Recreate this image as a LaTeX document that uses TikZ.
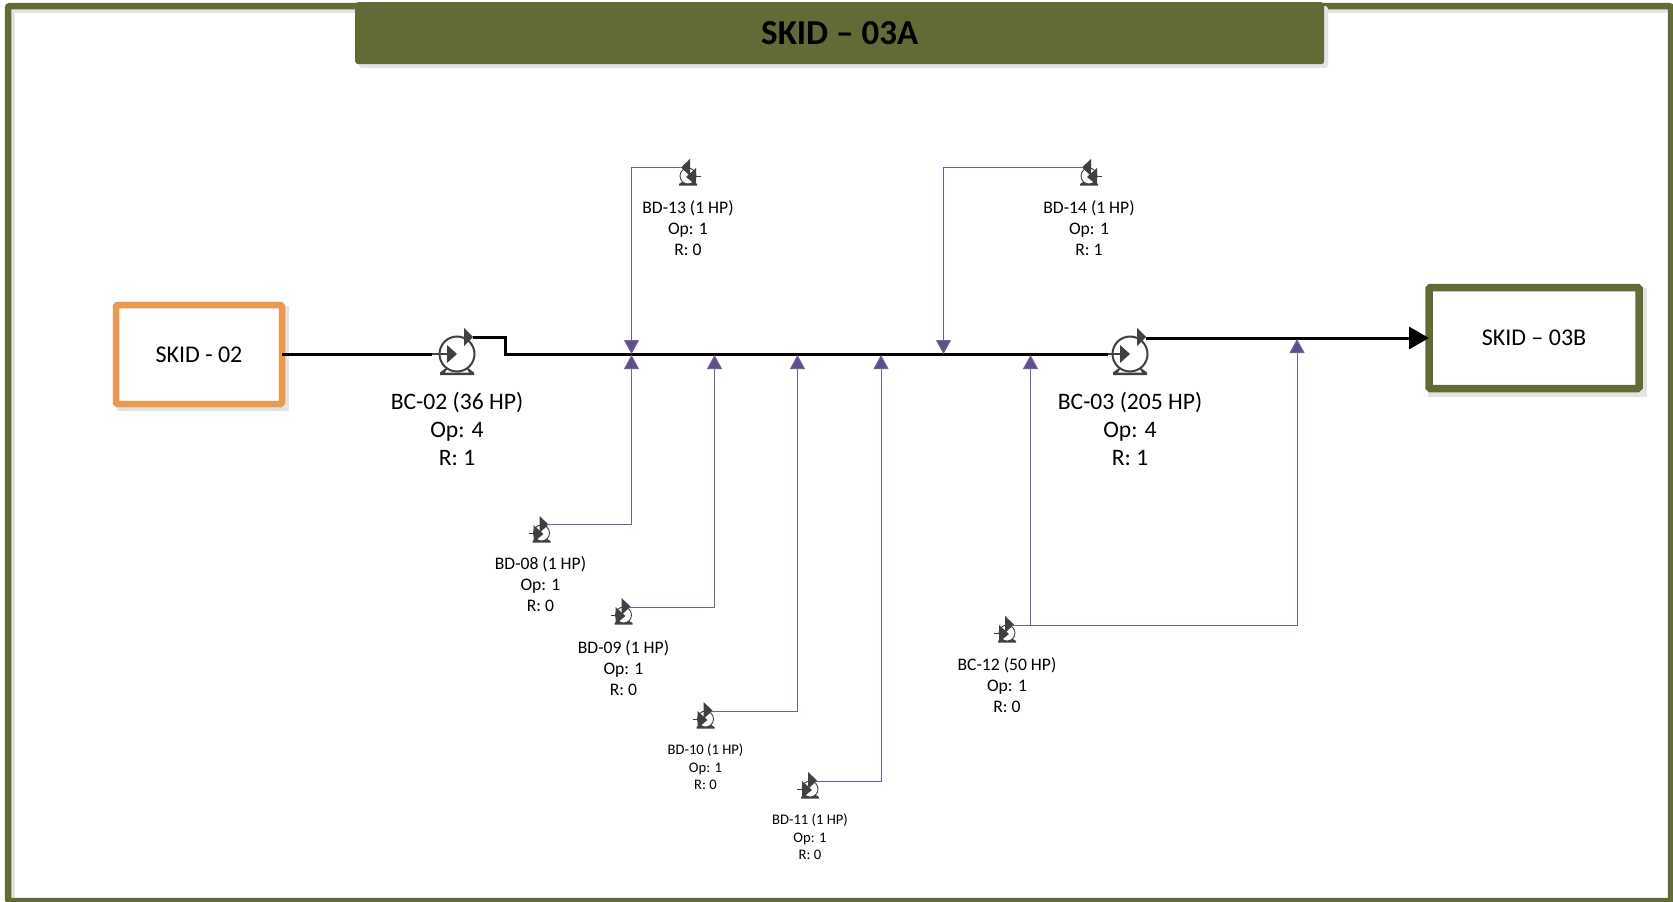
\documentclass[tikz,border=0pt]{standalone}
\usepackage{fontspec}
\setmainfont{Carlito}
\usetikzlibrary{arrows.meta}
\definecolor{olive}{RGB}{98,107,53}
\definecolor{orangeb}{RGB}{235,152,80}
\definecolor{violetl}{RGB}{112,96,155}
\definecolor{violetd}{RGB}{96,78,140}
\definecolor{shadowc}{RGB}{228,228,228}
\definecolor{pumpc}{RGB}{64,64,64}
\tikzset{
  feed/.style={draw=violetl,line width=1pt},
  feedarrow/.style={feed,-{Triangle[length=14pt,width=15pt,fill=violetd]}},
  mainline/.style={draw=black,line width=3pt,line join=miter},
  frameshade/.style={draw=shadowc,line width=6.5pt},
  bigtext/.style={font=\fontsize{23.6}{27.7}\selectfont,align=center,text=black,inner sep=0pt},
  midtext/.style={font=\fontsize{17.6}{21}\selectfont,align=center,text=black,inner sep=0pt},
  smalltext/.style={font=\fontsize{14.6}{17.5}\selectfont,align=center,text=black,inner sep=0pt},
  pics/bigpump/.style={code={
    \fill[pumpc] (-17,21) -- (17,21) -- (17,18.5) -- (11,14) -- (-11,14) -- (-17,18.5) -- cycle;
    \fill[white] (-12,18.5) -- (12,18.5) -- (9,14) -- (-9,14) -- cycle;
    \draw[pumpc,line width=2pt,fill=white] (0,0) circle (17.5);
    \draw[pumpc,line width=2pt] (-25,0) -- (-9,0);
    \fill[pumpc] (-10,-9) -- (0,0) -- (-10,9) -- cycle;
    \fill[pumpc] (7,-26) -- (16,-17) -- (7,-8) -- cycle;
  }},
  pics/smallpump/.style={code={
    \fill[pumpc] (-9,9.5) -- (9,9.5) -- (9,8) -- (5,5.5) -- (-5,5.5) -- (-9,8) -- cycle;
    \draw[pumpc,line width=.9pt,fill=white] (0,0) circle (8);
    \draw[pumpc,line width=.9pt] (-13,0) -- (-7,0);
    \fill[pumpc] (-8,-8) -- (2,1) -- (-8,9) -- cycle;
    \fill[pumpc] (-2,-17) -- (7,-8.5) -- (-2,0) -- cycle;
  }},
}
\begin{document}
\begin{tikzpicture}[x=1pt,y=-1pt]
\useasboundingbox (0,0) rectangle (1673,902);
\fill[white] (0,0) rectangle (1673,902);
% outer frame
\draw[frameshade] (12,10) rectangle (1675,905);
\draw[olive,line width=6.5pt,rounded corners=2pt] (8,6) rectangle (1671,901);
% title
\fill[shadowc,rounded corners=3pt] (359,6) rectangle (1328,68);
\node[fill=olive,rounded corners=3pt,minimum width=969pt,minimum height=62pt,inner sep=0pt,anchor=north west,font=\fontsize{35}{40}\selectfont\bfseries,text=black] (title) at (355,2) {SKID – 03A};
% boxes
\draw[shadowc,line width=6.5pt] (120,309) rectangle (286,408);
\node[draw=orangeb,fill=white,line width=6.5pt,rounded corners=1.5pt,minimum width=166pt,minimum height=99pt,inner sep=0pt,outer sep=0pt,anchor=north west,font=\fontsize{24}{28}\selectfont] (skid02) at (116,305) {SKID - 02};
\draw[shadowc,line width=7.5pt] (1432,292) rectangle (1643,393);
\node[draw=olive,fill=white,line width=7.5pt,rounded corners=1.5pt,minimum width=210pt,minimum height=101pt,inner sep=0pt,outer sep=0pt,anchor=north west,font=\fontsize{24}{28}\selectfont] (skid03b) at (1429,287.5) {SKID – 03B};
% main pumps
\pic at (457,354) {bigpump};
\pic at (1130,354) {bigpump};
\coordinate (bc02in) at (432,354);
\coordinate (bc02out) at (473,337);
\coordinate (bc03in) at (1108,354);
\coordinate (bc03out) at (1146,338);
\coordinate (s1) at (505,337);
\coordinate (s2) at (505,354);
\draw[mainline] (skid02.east |- 0,354) -- (bc02in);
\draw[mainline] (bc02out) -- (s1) -- (s2) -- (bc03in);
\draw[black,line width=3pt,-{Triangle[length=20pt,width=22pt]}] (bc03out) -- (skid03b.west |- bc03out);
% small pumps
\pic at (541.5,533) {smallpump};
\pic at (623.5,615) {smallpump};
\pic at (705.5,719) {smallpump};
\pic at (810,789) {smallpump};
\pic at (1007,633) {smallpump};
\pic[xscale=-1] at (688,176) {smallpump};
\pic[xscale=-1] at (1089,176) {smallpump};
\coordinate (bd08) at (547,524.5);
\coordinate (bd09) at (629,607.5);
\coordinate (bd10) at (711,711.5);
\coordinate (bd11) at (816,781.5);
\coordinate (bc12) at (1012,625);
\coordinate (bd13) at (682,167.5);
\coordinate (bd14) at (1083,167.5);
\coordinate (j1) at (631.5,355);
\coordinate (j1d) at (631.5,354);
\coordinate (j2) at (714.5,355);
\coordinate (j3) at (797.5,355);
\coordinate (j4) at (881,355);
\coordinate (j5) at (1030.5,355);
\coordinate (j6) at (1297,339);
\coordinate (j7) at (943.5,354);
% feeders
\draw[feedarrow] (bd08) -| (j1);
\draw[feedarrow] (bd09) -| (j2);
\draw[feedarrow] (bd10) -| (j3);
\draw[feedarrow] (bd11) -| (j4);
\draw[feedarrow] (bc12) -| (j5);
\draw[feedarrow] (bc12) -| (j6);
\draw[feedarrow] (bd13) -| (j1d);
\draw[feedarrow] (bd14) -| (j7);
% labels
\node[bigtext] (lb1) at (457,429) {BC-02 (36 HP)\\Op: 4\\R: 1};
\node[bigtext] (lb2) at (1130,429) {BC-03 (205 HP)\\Op: 4\\R: 1};
\node[midtext] (l13) at (688,228) {BD-13 (1 HP)\\Op: 1\\R: 0};
\node[midtext] (l14) at (1089,228) {BD-14 (1 HP)\\Op: 1\\R: 1};
\node[midtext] (l08) at (540.5,584.5) {BD-08 (1 HP)\\Op: 1\\R: 0};
\node[midtext] (l09) at (623.5,668.5) {BD-09 (1 HP)\\Op: 1\\R: 0};
\node[midtext] (l12) at (1007,685.5) {BC-12 (50 HP)\\Op: 1\\R: 0};
\node[smalltext] (l10) at (705.5,767) {BD-10 (1 HP)\\Op: 1\\R: 0};
\node[smalltext] (l11) at (810,837) {BD-11 (1 HP)\\Op: 1\\R: 0};
\end{tikzpicture}
\end{document}
